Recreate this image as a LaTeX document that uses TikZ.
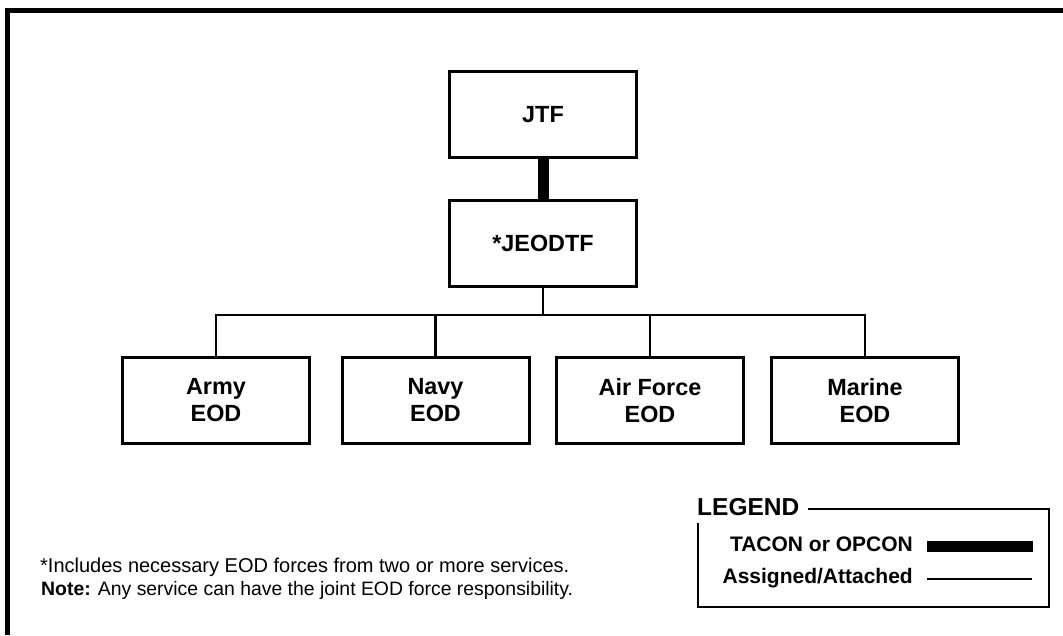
\documentclass[tikz,border=0pt]{standalone}
\usepackage{fontspec}
\setmainfont{Liberation Sans}
\begin{document}
\begin{tikzpicture}[x=1pt,y=-1pt,
  box/.style={draw, line width=3pt, minimum width=187pt, minimum height=86pt, inner sep=0pt, align=center,
              font=\fontsize{23.4}{27}\selectfont\bfseries},
  conn/.style={line width=2.7pt},
  thickconn/.style={line width=11pt},
  frame/.style={line width=4.5pt},
  legframe/.style={line width=2.8pt},
  legtext/.style={inner sep=0pt, font=\fontsize{21}{25}\selectfont\bfseries},
  foot/.style={inner sep=0pt, font=\fontsize{20}{24}\selectfont}]
\useasboundingbox (0,0) rectangle (1063,635);
% outer frame (only top and left visible)
\draw[frame] (7.5,635) -- (7.5,10.5) -- (1063,10.5);
% boxes
\node[box] (jtf) at (543,114.5) {JTF};
\node[box] (jeodtf) at (543,243.5) {*JEODTF};
\node[box] (army) at (216,400.5) {Army\\EOD};
\node[box] (navy) at (435.5,400.5) {Navy\\EOD};
\node[box] (af) at (650,400.5) {Air Force\\EOD};
\node[box] (marine) at (865,400.5) {Marine\\EOD};
% connectors
\draw[thickconn] (jtf.south) -- (jeodtf.north);
\coordinate (bar) at (543,315);
\draw[conn] (jeodtf.south) -- (bar);
\draw[conn] (army.north) -- (army.north |- bar) -- (marine.north |- bar) -- (marine.north);
\draw[conn] (navy.north) -- (navy.north |- bar);
\draw[conn] (af.north) -- (af.north |- bar);
% legend
\node[inner sep=0pt, anchor=base west, font=\fontsize{24.5}{28}\selectfont\bfseries] (legend) at (697,515) {LEGEND};
\draw[legframe] (808,509) -- (1049,509) -- (1049,607) -- (698,607) -- (698,523);
\node[legtext, anchor=base east] (tacon) at (913,551) {TACON or OPCON};
\node[legtext, anchor=base east] (assigned) at (913,583) {Assigned/Attached};
\coordinate (t1) at (927,546.5);
\coordinate (t2) at (1033,546.5);
\coordinate (a1) at (927,579);
\coordinate (a2) at (1032,579);
\draw[thickconn] (t1) -- (t2);
\draw[conn] (a1) -- (a2);
% footnotes
\node[foot, anchor=base west] (fn1) at (40,572) {*Includes necessary EOD forces from two or more services.};
\node[foot, anchor=base west, font=\fontsize{19.4}{24}\selectfont] (fn2) at (41,595) {\textbf{Note:} Any service can have the joint EOD force responsibility.};
\end{tikzpicture}
\end{document}
